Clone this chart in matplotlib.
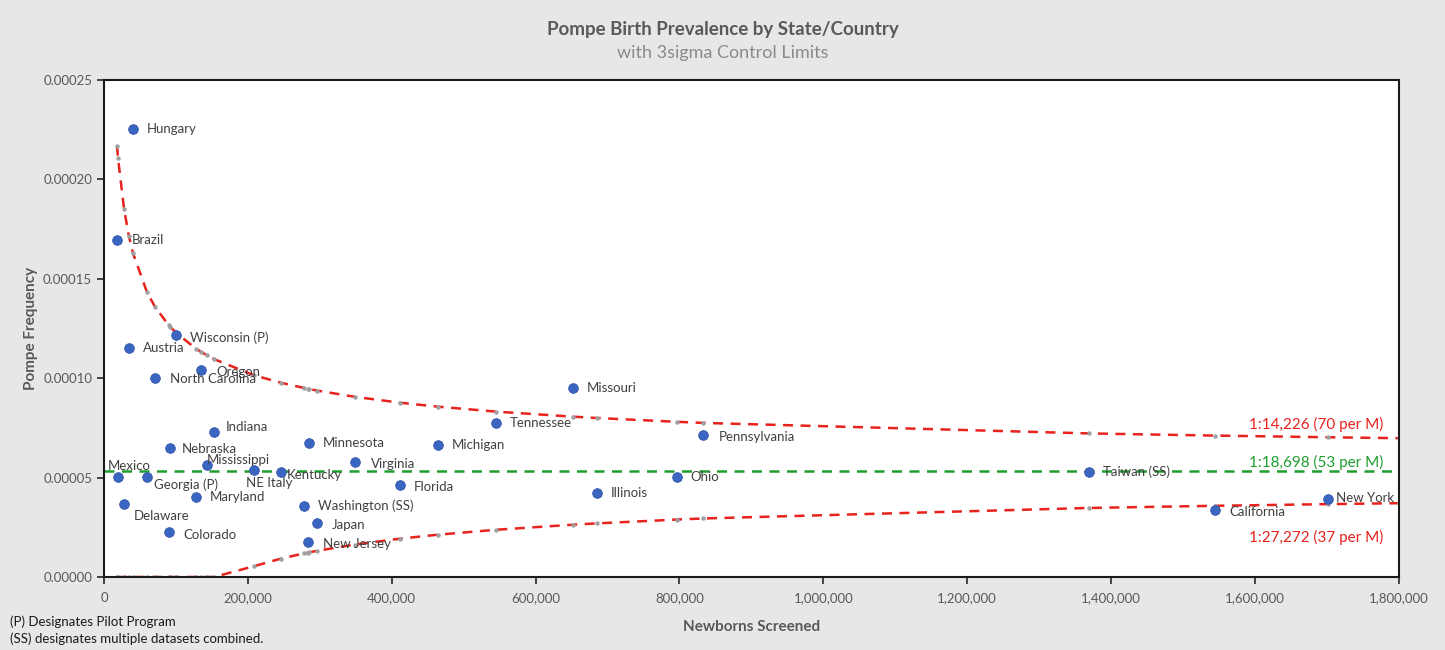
import matplotlib.pyplot as plt
from matplotlib.ticker import FuncFormatter

# Data
places = ['Hungary', 'Brazil', 'Wisconsin (P)', 'Austria', 'Oregon', 'North Carolina',
          'Missouri', 'Tennessee', 'Indiana', 'Pennsylvania', 'Minnesota', 'Michigan',
          'Nebraska', 'Virginia', 'Mississippi', 'NE Italy', 'Kentucky', 'Taiwan (SS)',
          'Mexico', 'Georgia (P)', 'Ohio', 'Florida', 'Illinois', 'Maryland', 'New York',
          'Delaware', 'Washington (SS)', 'California', 'Japan', 'Colorado', 'New Jersey']
screened = [40300, 18000, 100000, 34700, 134800, 70900,
            652000, 545000, 153000, 832600, 285000, 464000,
            91700, 349000, 143000, 208500, 246000, 1370000,
            19500, 59800, 796000, 411000, 685000, 128000, 1701000,
            27800, 278000, 1544000, 296000, 90000, 283000]
frequency = [0.0002254, 0.0001695, 0.0001217, 0.0001152, 0.0001041, 0.0001001,
             0.0000951, 0.0000775, 0.0000729, 0.0000714, 0.0000674, 0.0000664,
             0.0000649, 0.0000578, 0.0000563, 0.0000538, 0.0000528, 0.0000528,
             0.0000503, 0.0000503, 0.0000503, 0.0000463, 0.0000423, 0.0000402, 0.0000392,
             0.0000367, 0.0000357, 0.0000337, 0.0000272, 0.0000226, 0.0000176]

# control limit curves (values at the screened sizes)
limit_x = [18000, 19500, 27800, 34700, 40300, 59800, 70900, 90000, 91700, 100000,
           128000, 134800, 143000, 153000, 208500, 246000, 278000, 283000, 285000,
           296000, 349000, 411000, 464000, 545000, 652000, 685000, 796000, 832600,
           1370000, 1544000, 1701000, 1800000]
ucl = [2.170e-4, 2.106e-4, 1.851e-4, 1.713e-4, 1.628e-4, 1.432e-4, 1.359e-4, 1.266e-4,
       1.260e-4, 1.229e-4, 1.148e-4, 1.133e-4, 1.115e-4, 1.096e-4, 1.015e-4, 9.771e-5,
       9.509e-5, 9.472e-5, 9.457e-5, 9.380e-5, 9.062e-5, 8.770e-5, 8.569e-5, 8.320e-5,
       8.065e-5, 7.999e-5, 7.807e-5, 7.752e-5, 7.222e-5, 7.114e-5, 7.030e-5, 6.983e-5]
lcl = [0, 0, 0, 0, 0, 0, 0, 0, 0, 0, 0, 0, 0, 0, 5.43e-6, 9.25e-6,
       1.187e-5, 1.224e-5, 1.239e-5, 1.316e-5, 1.634e-5, 1.926e-5, 2.127e-5, 2.376e-5,
       2.631e-5, 2.697e-5, 2.889e-5, 2.944e-5, 3.474e-5, 3.582e-5, 3.666e-5, 3.713e-5]
mean_freq = 5.348e-5

ucl_label = '1:14,226 (70 per M)'
mean_label = '1:18,698 (53 per M)'
lcl_label = '1:27,272 (37 per M)'

# label offsets in pixels (dx, dy) where default is right of the point
offsets = {
    'Mississippi': (0, 5, 'left'), 'NE Italy': (-8, -13, 'left'),
    'Kentucky': (6, -3, 'left'), 'Mexico': (11, 11, 'center'),
    'Georgia (P)': (7, -8, 'left'), 'Delaware': (10, -12, 'left'),
    'New York': (8, 1, 'left'), 'Indiana': (12, 5, 'left'),
    'Wisconsin (P)': (14, -3, 'left'), 'Oregon': (15, -2, 'left'),
    'North Carolina': (15, -1, 'left'), 'Nebraska': (12, -1, 'left'),
    'Brazil': (15, 0, 'left'), 'California': (15, -2, 'left'),
    'Pennsylvania': (16, -2, 'left'), 'Florida': (14, -2, 'left'),
    'Japan': (15, -2, 'left'), 'Colorado': (15, -3, 'left'),
    'New Jersey': (15, -2, 'left'), 'Virginia': (16, -2, 'left'),
}

plt.rcParams['font.family'] = ['Lato', 'DejaVu Sans']
bg = '#e7e7e7'
red = '#e8221c'
green = '#1e9e2e'

fig = plt.figure(figsize=(14.45, 6.5), dpi=100, facecolor=bg)
ax = fig.add_axes([0.072, 0.1123, 0.896, 0.7646])
ax.set_facecolor('white')

# limits
ax.plot(limit_x, ucl, color=red, ls=(0, (4, 3)), lw=1.8, zorder=2)
ax.plot(limit_x, lcl, color=red, ls=(0, (4, 3)), lw=1.8, zorder=2)
ax.plot(limit_x, ucl, ls='none', marker='o', ms=2.2, color='#a0a0a0', zorder=2)
ax.plot(limit_x, lcl, ls='none', marker='o', ms=2.2, color='#a0a0a0', zorder=2)
ax.axhline(mean_freq, color=green, ls=(0, (4, 3)), lw=1.8, zorder=2)

# points
ax.scatter(screened, frequency, s=48, color='#3a66c2', edgecolor='#2f55a8',
           linewidth=0.6, zorder=4)
for name, x, y in zip(places, screened, frequency):
    dx, dy, ha = offsets.get(name, (14, 0, 'left'))
    ax.annotate(name, (x, y), xytext=(dx, dy), textcoords='offset pixels',
                ha=ha, va='center', fontsize=9.5, color='#404040', zorder=5)

# limit labels
ax.text(1778000, 0.0000765, ucl_label, color=red, fontsize=11, ha='right', va='center')
ax.text(1778000, 0.0000578, mean_label, color=green, fontsize=11, ha='right', va='center')
ax.text(1778000, 0.0000201, lcl_label, color=red, fontsize=11, ha='right', va='center')

ax.set_xlim(0, 1800000)
ax.set_ylim(0, 0.00025)
ax.set_xticks(range(0, 1800001, 200000))
ax.set_yticks([0, 0.00005, 0.0001, 0.00015, 0.0002, 0.00025])
ax.xaxis.set_major_formatter(FuncFormatter(lambda v, p: f'{v:,.0f}'))
ax.yaxis.set_major_formatter(FuncFormatter(lambda v, p: f'{v:.5f}'))
ax.tick_params(colors='#262626', labelcolor='#595959', labelsize=9.5, length=5, width=1.2)
ax.tick_params(axis='x', pad=6)
for s in ax.spines.values():
    s.set_color('#1a1a1a')
    s.set_linewidth(1.5)

ax.set_xlabel('Newborns Screened', fontsize=11, fontweight='bold', color='#595959', labelpad=11)
ax.set_ylabel('Pompe Frequency', fontsize=11, fontweight='bold', color='#595959', labelpad=4)

fig.text(0.5, 0.955, 'Pompe Birth Prevalence by State/Country', ha='center', va='center',
         fontsize=13.5, fontweight='bold', color='#595959')
fig.text(0.5, 0.919, 'with 3sigma Control Limits', ha='center', va='center',
         fontsize=13, color='#8a8a8a')

fig.text(0.007, 0.044, '(P) Designates Pilot Program', fontsize=9.5, color='#1a1a1a', va='center')
fig.text(0.007, 0.018, '(SS) designates multiple datasets combined.', fontsize=9.5,
         color='#1a1a1a', va='center')

fig.savefig('out.png', dpi=100, facecolor=bg)
